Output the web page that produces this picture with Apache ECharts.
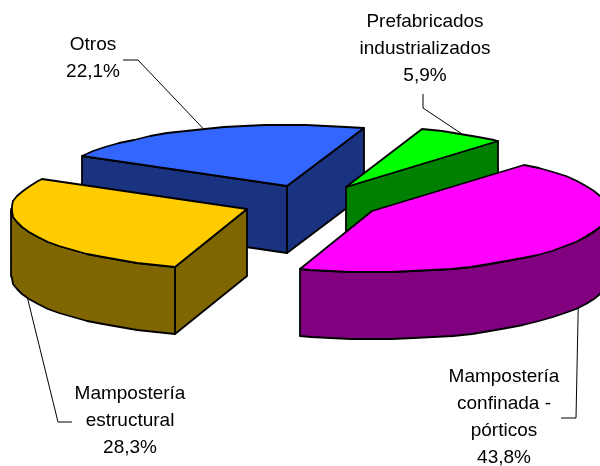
<!DOCTYPE html>
<html>
<head>
<meta charset="utf-8">
<style>
  html, body { margin: 0; padding: 0; background: #fff; }
  #chart { width: 600px; height: 466px; }
</style>
<script src="https://cdn.jsdelivr.net/npm/echarts@6/dist/echarts.min.js"></script>
</head>
<body>
<div id="chart"></div>
<script>
// valores
const categories = ['Prefabricados\nindustrializados', 'Mampostería\nconfinada -\npórticos', 'Mampostería\nestructural', 'Otros'];
const values = [5.9, 43.8, 28.3, 22.1];

const topColors = ['#00FF00', '#FF00FF', '#FFCC00', '#3366FF'];
const sideColors = ['#008000', '#800080', '#806600', '#1A3380'];

// geometria del pastel 3D (en unidades de eje = px)
const cx = 311.5, cy = 202.6, rx = 236, ry = 61, depth = 67;
const explode = 0.292;
const startDeg = 19;
const arcStep = 5;

// posicion de los rotulos y codo de las lineas guia
const labelCenters = [[425, 49], [504, 417], [130, 420.5], [93, 58.5]];
const leaderElbows = [[[423, 94], [423, 108]], [[561, 418], [576, 418]], [[72, 422], [58, 422]], [[123, 60], [138, 60]]];
const leaderOnWall = [false, true, true, false];

const total = values.reduce((a, b) => a + b, 0);
const slices = [];
let acc = startDeg;
values.forEach((v, i) => {
    const sweep = v / total * 360;
    const mid = (acc + sweep / 2) * Math.PI / 180;
    slices.push({
        i: i,
        a0: acc,
        a1: acc + sweep,
        ax: cx + explode * rx * Math.sin(mid),
        ay: cy - explode * ry * Math.cos(mid),
        mid: mid
    });
    acc += sweep;
});
// de atras hacia adelante
const drawOrder = slices.slice().sort((p, q) => p.ay - q.ay).map(s => s.i);

const rimPoint = (s, deg, dy) => {
    const t = deg * Math.PI / 180;
    return [s.ax + rx * Math.sin(t), s.ay - ry * Math.cos(t) + dy];
};
const arcPoints = (s, from, to, dy) => {
    const pts = [];
    for (let d = from; d < to; d += arcStep) pts.push(rimPoint(s, d, dy));
    pts.push(rimPoint(s, to, dy));
    return pts;
};

const renderSlice = (params, api) => {
    const s = slices[api.value(0)];
    const toPx = pts => pts.map(p => api.coord(p).map(Math.round));
    const stroke = { stroke: '#000', lineWidth: 1.8, lineJoin: 'round' };
    const poly = (pts, fill) => ({
        type: 'polygon',
        shape: { points: toPx(pts) },
        style: Object.assign({ fill: fill }, stroke)
    });
    const side = sideColors[s.i];
    const children = [];
    const radialWall = deg => {
        const p = rimPoint(s, deg, 0);
        return poly([[s.ax, s.ay], p, [p[0], p[1] + depth], [s.ax, s.ay + depth]], side);
    };
    if (Math.sin(s.a0 * Math.PI / 180) < 0) children.push(radialWall(s.a0));
    if (Math.sin(s.a1 * Math.PI / 180) > 0) children.push(radialWall(s.a1));
    const from = Math.max(s.a0, 90), to = Math.min(s.a1, 270);
    if (from < to) {
        children.push(poly(arcPoints(s, from, to, 0).concat(arcPoints(s, from, to, depth).reverse()), side));
    }
    children.push(poly([[s.ax, s.ay]].concat(arcPoints(s, s.a0, s.a1, 0)), topColors[s.i]));
    return { type: 'group', children: children };
};

const renderLabel = (params, api) => {
    const i = api.value(0);
    const s = slices[i];
    const deg = s.mid * 180 / Math.PI;
    const anchor = rimPoint(s, deg, leaderOnWall[i] ? depth : 0);
    const pts = leaderElbows[i].concat([anchor]).map(p => api.coord(p));
    const c = api.coord(labelCenters[i]);
    return {
        type: 'group',
        children: [
            {
                type: 'polyline',
                shape: { points: pts },
                style: { stroke: '#000', lineWidth: 1, fill: 'none' }
            },
            {
                type: 'text',
                style: {
                    text: categories[i] + '\n' + values[i].toFixed(1).replace('.', ',') + '%',
                    x: c[0],
                    y: c[1],
                    align: 'center',
                    verticalAlign: 'middle',
                    fill: '#000',
                    font: '19px "Liberation Sans", Arial, sans-serif',
                    lineHeight: 27
                }
            }
        ]
    };
};

const myChart = echarts.init(document.getElementById('chart'));
myChart.setOption({
    animation: false,
    grid: { left: 0, right: 0, top: 0, bottom: 0 },
    xAxis: { type: 'value', min: 0, max: 600, show: false },
    yAxis: { type: 'value', min: 0, max: 466, inverse: true, show: false },
    series: [
        {
            type: 'custom',
            coordinateSystem: 'cartesian2d',
            clip: false,
            silent: true,
            renderItem: renderLabel,
            encode: { x: 1, y: 2 },
            data: categories.map((c, i) => [i, 0, 0]),
            z: 1
        },
        {
            type: 'custom',
            coordinateSystem: 'cartesian2d',
            clip: false,
            silent: true,
            renderItem: renderSlice,
            encode: { x: 1, y: 2 },
            data: drawOrder.map(i => [i, 0, 0]),
            z: 2
        }
    ]
});
</script>
</body>
</html>
